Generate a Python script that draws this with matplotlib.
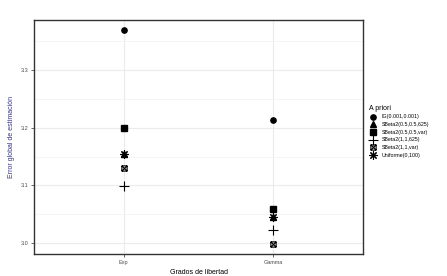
import matplotlib
matplotlib.use("Agg")
import matplotlib.pyplot as plt
from matplotlib.path import Path
from matplotlib.ticker import MultipleLocator

plt.rcParams['font.family'] = ['Liberation Sans', 'DejaVu Sans']

# data
distributions = ['Exp', 'Gamma']
priors = ['IG(0.001,0.001)', 'SBeta2(0.5,0.5,625)', 'SBeta2(0.5,0.5,var)',
          'SBeta2(1,1,625)', 'SBeta2(1,1,var)', 'Uniforme(0,100)']
ig_vals = [3.369, 3.213]
sb05_625_vals = [3.154, 3.045]
sb05_var_vals = [3.200, 3.059]
sb1_625_vals = [3.099, 3.023]
sb1_var_vals = [3.131, 2.999]
unif_vals = [3.154, 3.045]

# square with an x inside (ggplot shape 7)
boxed_x = Path([(-1, -1), (1, -1), (1, 1), (-1, 1), (-1, -1),
                (-1, -1), (1, 1), (-1, 1), (1, -1)],
               [Path.MOVETO, Path.LINETO, Path.LINETO, Path.LINETO, Path.CLOSEPOLY,
                Path.MOVETO, Path.LINETO, Path.MOVETO, Path.LINETO])

series = [
    (ig_vals, dict(marker='o', ms=3.8)),
    (sb05_625_vals, dict(marker='^', ms=4.2)),
    (sb05_var_vals, dict(marker='s', ms=4.0)),
    (sb1_625_vals, dict(marker='+', ms=6.5, mew=0.8)),
    (sb1_var_vals, dict(marker=boxed_x, ms=3.8, mew=0.8, mfc='none')),
    (unif_vals, dict(marker=(8, 2, 0), ms=6.0, mew=0.8)),
]

fig = plt.figure(figsize=(4.47, 2.76), dpi=100)
ax = fig.add_axes([34 / 447, 1 - 254 / 276, 329 / 447, 234.5 / 276])

x = list(range(1, len(distributions) + 1))
for (vals, style), lab in zip(series, priors):
    ax.plot(x, vals, ls='none', color='black', mec='black', label=lab, **style)

ax.set_xlim(0.4, 2.6)
ax.set_ylim(2.981, 3.388)
ax.set_xticks(x)
ax.set_xticklabels(distributions)
ax.yaxis.set_major_locator(MultipleLocator(0.1))
ax.yaxis.set_minor_locator(MultipleLocator(0.05))
ax.yaxis.set_major_formatter(matplotlib.ticker.FormatStrFormatter('%.1f'))
ax.grid(True, which='major', color='#ebebeb', lw=0.8)
ax.grid(True, which='minor', axis='y', color='#f2f2f2', lw=0.5)
ax.set_axisbelow(True)
for s in ax.spines.values():
    s.set_color('#333333')
    s.set_linewidth(1.0)
ax.tick_params(axis='both', which='major', labelsize=4, colors='#4d4d4d',
               length=2, width=0.6, pad=2)
ax.tick_params(axis='y', which='minor', length=0)

ax.set_xlabel('Grados de libertad', fontsize=5, labelpad=3)
ax.set_ylabel('Error global de estimación', fontsize=5, color='#34348a', labelpad=4)

leg = ax.legend(title='A priori', loc='upper left', bbox_to_anchor=(1.012, 0.645),
                frameon=False, fontsize=3.8, title_fontsize=5,
                handlelength=1.4, handletextpad=1.0, labelspacing=0.5,
                borderaxespad=0)
leg._legend_box.align = 'left'

fig.savefig('out.png', dpi=100)
